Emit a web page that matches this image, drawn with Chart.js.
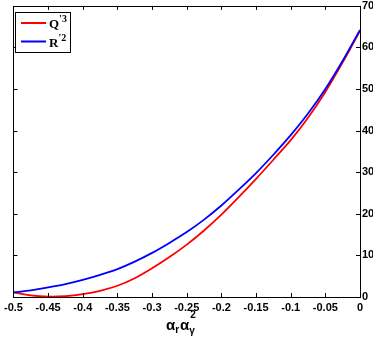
<!DOCTYPE html>
<html>
<head>
<meta charset="utf-8">
<script src="https://cdn.jsdelivr.net/npm/chart.js@4/dist/chart.umd.min.js"></script>
<style>
html,body{margin:0;padding:0;background:#fff;}
#wrap{width:373px;height:337px;}
</style>
</head>
<body>
<div id="wrap"><canvas id="c" width="373" height="337"></canvas></div>
<script>
const xValues = [-0.5,-0.475,-0.45,-0.425,-0.4,-0.375,-0.35,-0.325,-0.3,-0.275,-0.25,-0.225,-0.2,-0.175,-0.15,-0.125,-0.1,-0.075,-0.05,-0.025,0];
const qValues = [1.1,0.4,0.1,0.2,0.7,1.5,2.7,4.5,6.9,9.6,12.6,16.0,19.8,24.0,28.4,33.0,37.7,43.1,49.3,56.4,64.0];
const rValues = [1.1,1.6,2.3,3.1,4.1,5.3,6.7,8.5,10.6,13.0,15.6,18.6,22.0,25.8,29.8,34.2,38.9,44.1,50.0,56.8,64.2];
const seriesLabels = [["Q","'","3"],["R","'","2"]];
const seriesColors = ["#ff0000","#0000ff"];

const toPts = (ys) => xValues.map((x,i)=>({x:x,y:ys[i]}));

const framePlugin = {
  id:'frame',
  afterDraw(chart){
    const {ctx, chartArea:a, scales} = chart;
    ctx.save();
    ctx.strokeStyle = '#000';
    ctx.lineWidth = 1;
    ctx.strokeRect(Math.round(a.left)+0.5, Math.round(a.top)+0.5, Math.round(a.right-a.left), Math.round(a.bottom-a.top));
    const tl = 4;
    ctx.beginPath();
    scales.x.ticks.forEach(t=>{
      const px = Math.round(scales.x.getPixelForValue(t.value))+0.5;
      ctx.moveTo(px, a.bottom); ctx.lineTo(px, a.bottom-tl);
      ctx.moveTo(px, a.top); ctx.lineTo(px, a.top+tl);
    });
    scales.y.ticks.forEach(t=>{
      const py = Math.round(scales.y.getPixelForValue(t.value))+0.5;
      ctx.moveTo(a.right, py); ctx.lineTo(a.right-tl, py);
      ctx.moveTo(a.left, py); ctx.lineTo(a.left+tl, py);
    });
    ctx.stroke();

    // legend
    const lx = 15, ly = 12, lw = 55, lh = 40;
    ctx.fillStyle = '#fff';
    ctx.fillRect(lx, ly, lw, lh);
    ctx.strokeStyle = '#000';
    ctx.lineWidth = 1;
    ctx.strokeRect(lx+0.5, ly+0.5, lw, lh);
    seriesLabels.forEach((lab,i)=>{
      const y = ly + 11 + i*18.5;
      ctx.strokeStyle = seriesColors[i];
      ctx.lineWidth = 2;
      ctx.beginPath(); ctx.moveTo(21, y); ctx.lineTo(46, y); ctx.stroke();
      ctx.fillStyle = '#000';
      ctx.textBaseline = 'alphabetic';
      ctx.textAlign = 'left';
      ctx.font = 'bold 13px "Liberation Serif"';
      ctx.fillText(lab[0], 49, y+5);
      const w = ctx.measureText(lab[0]).width;
      ctx.font = 'bold 10px "Liberation Serif"';
      ctx.fillText(lab[1]+lab[2], 49+w, y-1);
    });

    // x-axis title: alpha_r alpha_gamma^2
    ctx.fillStyle = '#000';
    ctx.textAlign = 'left';
    ctx.textBaseline = 'alphabetic';
    let x = 166; const base = 330;
    ctx.font = 'bold 15px "Liberation Sans"';
    ctx.fillText('α', x, base); x += ctx.measureText('α').width;
    ctx.font = 'bold 10px "Liberation Sans"';
    ctx.fillText('r', x, base+3); x += ctx.measureText('r').width + 1;
    ctx.font = 'bold 15px "Liberation Sans"';
    ctx.fillText('α', x, base); x += ctx.measureText('α').width;
    ctx.font = 'bold 10px "Liberation Sans"';
    ctx.fillText('γ', x, base+4);
    ctx.fillText('2', x+1, base-12);
    ctx.restore();
  }
};

new Chart(document.getElementById('c'), {
  type:'line',
  data:{
    datasets:[
      {label:'Q3', data:toPts(qValues), borderColor:seriesColors[0], borderWidth:1.8, pointRadius:0, tension:0.3, fill:false, order:2},
      {label:'R2', data:toPts(rValues), borderColor:seriesColors[1], borderWidth:1.8, pointRadius:0, tension:0.3, fill:false, order:1}
    ]
  },
  options:{
    responsive:false,
    animation:false,
    layout:{padding:{left:10,top:4,right:0,bottom:0}},
    plugins:{legend:{display:false}, tooltip:{enabled:false}},
    scales:{
      x:{
        type:'linear', min:-0.5, max:0,
        grid:{display:false, drawTicks:false},
        border:{display:false},
        ticks:{stepSize:0.05, padding:4, color:'#000', maxRotation:0, autoSkip:false,
          font:{family:'Liberation Sans', weight:'bold', size:11},
          callback:(v)=>{const r=Math.round(v*100)/100; return r===0?'0':String(r);}},
        afterFit:(s)=>{s.height=40;}
      },
      y:{
        type:'linear', position:'right', min:0, max:70,
        grid:{display:false, drawTicks:false},
        border:{display:false},
        ticks:{stepSize:10, padding:2, color:'#000',
          font:{family:'Liberation Sans', weight:'bold', size:11, lineHeight:0.7}},
        afterFit:(s)=>{s.width=13;}
      }
    }
  },
  plugins:[framePlugin]
});
</script>
</body>
</html>
